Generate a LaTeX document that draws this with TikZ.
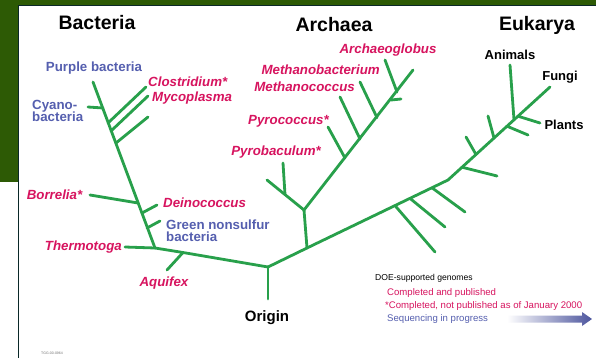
\documentclass[tikz,border=0pt]{standalone}
\usepackage{fontspec}
\setmainfont{Liberation Sans}
\usepackage{tkz-euclide}
\definecolor{SlideClr}{RGB}{45,90,5}
\definecolor{BorderClr}{RGB}{10,40,40}
\definecolor{TreeClr}{RGB}{40,160,75}
\definecolor{GenomeClr}{RGB}{215,20,95}
\definecolor{GroupClr}{RGB}{85,95,175}

\begin{document}
\begin{tikzpicture}[x=1pt,y=1pt,line cap=round,
  titletext/.style={font=\fontsize{19.5}{20}\selectfont\bfseries,inner sep=0pt},
  genome/.style={font=\fontsize{13.3}{14}\selectfont\bfseries\itshape,text=GenomeClr,inner sep=0pt},
  grouptext/.style={font=\fontsize{13.3}{14}\selectfont\bfseries,text=GroupClr,inner sep=0pt,align=left},
  eukname/.style={font=\fontsize{13}{14}\selectfont\bfseries,inner sep=0pt},
  legendtext/.style={font=\fontsize{9.6}{10}\selectfont,inner sep=0pt,anchor=west}]
\useasboundingbox (0,0) rectangle (596,-358);

% slide and panel
\fill[white] (0,0) rectangle (596,-358);
\fill[SlideClr] (0,0) rectangle (18,-182);
\fill[SlideClr] (0,0) rectangle (596,-5);
\draw[BorderClr,line width=1.5pt,line cap=butt] (18.5,-358) -- (18.5,-5.5) -- (596,-5.5);

% root and bacteria
\tkzDefPoints{268/-267/R,268/-299/Rb,155/-248/Bb,93/-82/Bt,
  183/-252.5/Aqj,167/-270/Aq,125/-247/Th,
  138/-203/Boj,90/-195/Bo,142/-213/Dej,157/-205/De,
  147/-228/Gnj,160/-221/Gn,103/-108/Cyj,88/-107/Cy,
  108/-123/Clj,146/-87/Cl,111/-131/Myj,148/-96/My,116/-143/Bxj,148/-117/Bx}

% archaea
\tkzDefPoints{307/-248/Ab,304/-210/Aj,267/-180/Al,285/-194.6/Pbj,283/-163/Pb,
  413/-70/At,345/-158/Pcj,328/-127/Pc,360/-139/Mcj,340/-97/Mc,
  377/-117.6/Mbj,360/-82/Mb,397/-92/Agj,385/-60/Ag,391/-100/Axj,401/-99/Ax}

% eukarya
\tkzDefPoints{448/-180/Ek,550/-87/Et,
  395/-205.6/Lbj,435/-252/Lb,410/-198.4/Lcj,445/-227/Lc,432/-187.8/Ldj,465/-212/Ld,
  462/-167.2/Ebj,497/-176/Eb,476/-154.5/Ecj,466/-137/Ec,494/-138/Edj,488/-116/Ed,
  507/-126.2/Eej,528/-135/Ee,514/-119.8/Anj,510/-65/An,518/-116.2/Plj,540/-123/Pl}

\tkzDrawSegments[line width=2.8pt,color=TreeClr](R,Rb R,Aqj Aqj,Bb Bb,Bt Aqj,Aq Bb,Th
  Boj,Bo Dej,De Gnj,Gn Cyj,Cy Clj,Cl Myj,My Bxj,Bx)
\tkzDrawSegments[line width=2.8pt,color=TreeClr](R,Ab Ab,Aj Aj,Al Pbj,Pb Aj,At
  Pcj,Pc Mcj,Mc Mbj,Mb Agj,Ag Axj,Ax)
\tkzDrawSegments[line width=2.8pt,color=TreeClr](Ab,Ek Ek,Et Lbj,Lb Lcj,Lc Ldj,Ld
  Ebj,Eb Ecj,Ec Edj,Ed Eej,Ee Anj,An Plj,Pl)

% titles
\node[titletext] (bact) at (97,-23) {Bacteria};
\node[titletext] (arch) at (334,-25) {Archaea};
\node[titletext] (euka) at (537,-25) {Eukarya};
\node[font=\fontsize{15}{16}\selectfont\bfseries,inner sep=0pt] (orig) at (267,-318) {Origin};

% bacteria labels
\node[grouptext] (purple) at (94,-68) {Purple bacteria};
\node[grouptext,anchor=west] (cyano) at (32,-111) {Cyano-\\[-2pt]bacteria};
\node[genome,anchor=west] (clos) at (148,-82) {Clostridium*};
\node[genome,anchor=west] (myco) at (152,-98) {Mycoplasma};
\node[genome] (borr) at (54.5,-195) {Borrelia*};
\node[genome,anchor=west] (dein) at (163,-203) {Deinococcus};
\node[grouptext,anchor=west] (green) at (166,-231) {Green nonsulfur\\[-2pt]bacteria};
\node[genome,anchor=east] (therm) at (122,-247) {Thermotoga};
\node[genome] (aqui) at (164,-283) {Aquifex};

% archaea labels
\node[genome] (glob) at (388,-50) {Archaeoglobus};
\node[genome,anchor=east] (mbac) at (380,-70) {Methanobacterium};
\node[genome,anchor=east] (mcoc) at (355,-87) {Methanococcus};
\node[genome,anchor=east] (pcoc) at (329,-121) {Pyrococcus*};
\node[genome,anchor=east] (pbac) at (321,-152) {Pyrobaculum*};

% eukarya labels
\node[eukname] (anim) at (510,-55) {Animals};
\node[eukname] (fung) at (560,-77) {Fungi};
\node[eukname] (plan) at (564,-125) {Plants};

% legend
\node[legendtext,font=\fontsize{8.6}{9}\selectfont] (doe) at (375,-278) {DOE-supported genomes};
\node[legendtext,text=GenomeClr] (done) at (387,-293) {Completed and published};
\node[legendtext,text=GenomeClr] (nopub) at (385,-306) {*Completed, not published as of January 2000};
\node[legendtext,text=GroupClr] (seq) at (387,-319) {Sequencing in progress};
\shade[left color=white,right color=GroupClr!90!black]
  (507,-315.5) -- (582,-315.5) -- (582,-312) -- (592,-319) -- (582,-326) -- (582,-322.5) -- (507,-322.5) -- cycle;

\node[font=\fontsize{3.5}{4}\selectfont,text=black!55,inner sep=0pt] (code) at (52,-353) {TGG-00-0964};
\end{tikzpicture}
\end{document}
